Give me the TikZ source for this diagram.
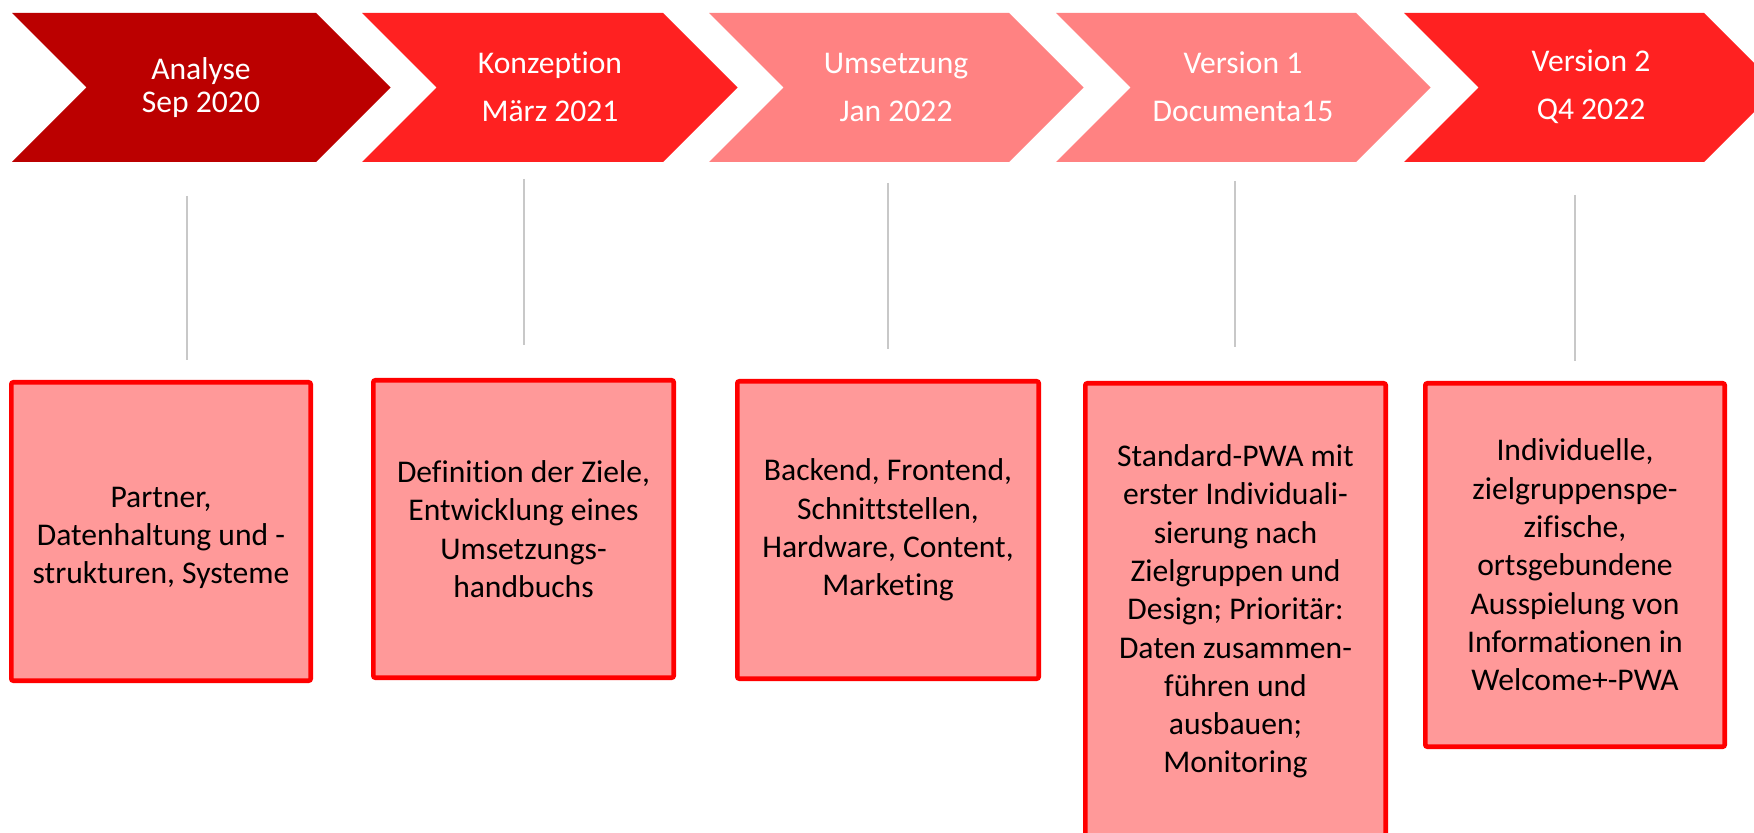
\documentclass[tikz,border=0pt]{standalone}
\usepackage{fontspec}
\setmainfont{Carlito}[Ligatures={NoCommon,NoRare,NoContextual}]
\definecolor{cdark}{RGB}{187,0,0}
\definecolor{cred}{RGB}{255,33,33}
\definecolor{clight}{RGB}{255,130,130}
\definecolor{boxfill}{RGB}{255,153,153}
\definecolor{boxred}{RGB}{255,0,0}
\definecolor{linegray}{RGB}{200,200,200}
\begin{document}
\begin{tikzpicture}[x=0.5pt,y=-0.5pt,
  chevtext/.style={text=white, align=center, inner sep=0pt, font=\fontsize{15.8}{24}\selectfont},
  chevtextb/.style={chevtext, font=\fontsize{15.8}{16.5}\selectfont},
  boxtext/.style={align=center, inner sep=0pt, text=black, font=\fontsize{15.8}{19.15}\selectfont},
  infobox/.style={draw=boxred, fill=boxfill, line width=2.35pt, inner sep=0pt, rounded corners=1pt, boxtext},
  conn/.style={draw=linegray, line width=1pt}]
\useasboundingbox (0,0) rectangle (1754,833);
\clip (0,0) rectangle (1754,833);
% chevrons
\fill[cdark]  (12,13) -- (316,13) -- (390.5,87.5) -- (316,162) -- (12,162) -- (86.5,87.5) -- cycle;
\fill[cred]   (362,13) -- (663,13) -- (737.5,87.5) -- (663,162) -- (362,162) -- (436.5,87.5) -- cycle;
\fill[clight] (709,13) -- (1009,13) -- (1083.5,87.5) -- (1009,162) -- (709,162) -- (783.5,87.5) -- cycle;
\fill[clight] (1056,13) -- (1356,13) -- (1430.5,87.5) -- (1356,162) -- (1056,162) -- (1130.5,87.5) -- cycle;
\fill[cred]   (1404,13) -- (1704,13) -- (1778.5,87.5) -- (1704,162) -- (1404,162) -- (1478.5,87.5) -- cycle;
% chevron labels
\node[chevtextb] (t1) at (201,88) {Analyse\\Sep 2020};
\node[chevtext] (t2) at (550,87) {Konzeption\\März 2021};
\node[chevtext] (t3) at (896,87) {Umsetzung\\Jan 2022};
\node[chevtext] (t4) at (1243,87) {Version 1\\Documenta15};
\node[chevtext] (t5) at (1591,87) {Version 2\\Q4 2022};
% connector lines
\coordinate (l1a) at (187,196);  \coordinate (l1b) at (187,360);
\coordinate (l2a) at (524,179);  \coordinate (l2b) at (524,345);
\coordinate (l3a) at (888,183);  \coordinate (l3b) at (888,349);
\coordinate (l4a) at (1235,181); \coordinate (l4b) at (1235,347);
\coordinate (l5a) at (1575,195); \coordinate (l5b) at (1575,361);
\draw[conn] (l1a) -- (l1b);
\draw[conn] (l2a) -- (l2b);
\draw[conn] (l3a) -- (l3b);
\draw[conn] (l4a) -- (l4b);
\draw[conn] (l5a) -- (l5b);
% boxes
\node[infobox, minimum width=149.65pt, minimum height=149.15pt] (b1) at (161,531.5) {};
\node[boxtext] (b1t) at (161,538) {Partner,\\Datenhaltung und -\\strukturen, Systeme};
\node[infobox, minimum width=150.15pt, minimum height=148.65pt] (b2) at (523.5,529)
  {Definition der Ziele,\\Entwicklung eines\\Umsetzungs-\\handbuchs};
\node[infobox, minimum width=150.65pt, minimum height=148.65pt] (b3) at (888,530)
  {Backend, Frontend,\\Schnittstellen,\\Hardware, Content,\\Marketing};
\node[infobox, minimum width=150.15pt, minimum height=228.15pt] (b4) at (1235.5,611.5)
  {Standard-PWA mit\\erster Individuali-\\sierung nach\\Zielgruppen und\\Design; Prioritär:\\Daten zusammen-\\führen und\\ausbauen;\\Monitoring};
\node[infobox, minimum width=149.65pt, minimum height=181.65pt] (b5) at (1575,565)
  {Individuelle,\\zielgruppenspe-\\zifische,\\ortsgebundene\\Ausspielung von\\Informationen in\\Welcome+-PWA};
\end{tikzpicture}
\end{document}
